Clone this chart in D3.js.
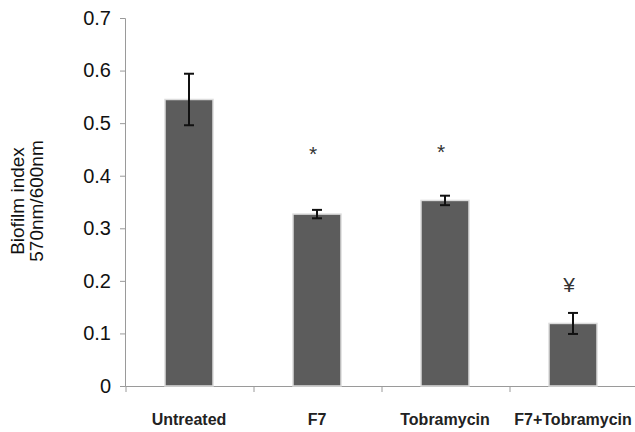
<!DOCTYPE html>
<html><head><meta charset="utf-8">
<script src="https://cdn.jsdelivr.net/npm/d3@7"></script>
<style>body{margin:0;background:#fff}svg{display:block}text{font-family:Arial,"Liberation Sans",sans-serif}</style>
</head><body>
<svg id="c" width="635" height="432"></svg>
<script>
const categories = ["Untreated", "F7", "Tobramycin", "F7+Tobramycin"];
const values = [0.545, 0.327, 0.353, 0.119];
const errors = [0.049, 0.008, 0.009, 0.020];
const marks = ["", "*", "*", "¥"];
const markValues = [null, 0.445, 0.448, 0.195];
const yTicks = [0, 0.1, 0.2, 0.3, 0.4, 0.5, 0.6, 0.7];

const svg = d3.select("#c");
const x = d3.scaleBand().domain(categories).range([125, 637]).paddingInner(0).paddingOuter(0);
const y = d3.scaleLinear().domain([0, 0.7]).range([386, 18]);
const bw = 48;

// y axis
const ya = svg.append("g").attr("transform", "translate(125,0)")
  .call(d3.axisLeft(y).tickValues(yTicks).tickSize(5).tickPadding(9)
    .tickFormat(d => d === 0 ? "0" : d3.format(".1f")(d)));
ya.select(".domain").attr("stroke", "#9a9a9a");
ya.selectAll(".tick line").attr("stroke", "#9a9a9a");
ya.selectAll(".tick text").attr("font-size", 20).attr("fill", "#111").attr("font-family", "Arial, 'Liberation Sans', sans-serif");

// x axis
const xa = svg.append("g").attr("transform", "translate(0,386)")
  .call(d3.axisBottom(x).tickSize(0).tickPadding(28));
xa.select(".domain").attr("stroke", "#9a9a9a");
xa.selectAll(".tick text").attr("font-size", 16).attr("fill", "#222").attr("font-weight", "bold")
  .attr("font-family", "Arial, 'Liberation Sans', sans-serif");
// boundary ticks
svg.append("g").selectAll("line").data(categories.slice(0, 4)).join("line")
  .attr("x1", d => x(d) + 1).attr("x2", d => x(d) + 1)
  .attr("y1", 386).attr("y2", 392).attr("stroke", "#9a9a9a");

// bars
svg.append("g").selectAll("rect").data(categories).join("rect")
  .attr("x", d => x(d) + x.bandwidth() / 2 - bw / 2)
  .attr("width", bw)
  .attr("y", (d, i) => y(values[i]))
  .attr("height", (d, i) => y(0) - y(values[i]))
  .attr("fill", "#5c5c5c").attr("stroke", "#dcdcdc").attr("stroke-width", 1.5);

// error bars
const eg = svg.append("g").attr("stroke", "#111").attr("stroke-width", 2);
categories.forEach((c, i) => {
  const cx = x(c) + x.bandwidth() / 2;
  const t = y(values[i] + errors[i]), b = y(values[i] - errors[i]);
  eg.append("line").attr("x1", cx).attr("x2", cx).attr("y1", t).attr("y2", b);
  eg.append("line").attr("x1", cx - 5).attr("x2", cx + 5).attr("y1", t).attr("y2", t);
  eg.append("line").attr("x1", cx - 5).attr("x2", cx + 5).attr("y1", b).attr("y2", b);
});

// significance marks
categories.forEach((c, i) => {
  if (!marks[i]) return;
  svg.append("text").attr("x", x(c) + x.bandwidth() / 2 - 4).attr("y", y(markValues[i]) + 9)
    .attr("text-anchor", "middle").attr("font-size", 21).attr("fill", "#333").text(marks[i]);
});

// y title
const yt = svg.append("text").attr("transform", "translate(24,201) rotate(-90)")
  .attr("text-anchor", "middle").attr("font-size", 19).attr("fill", "#111");
yt.append("tspan").attr("x", 0).attr("dy", 0).text("Biofilm index");
yt.append("tspan").attr("x", 0).attr("dy", 19).text("570nm/600nm");
</script>
</body></html>
